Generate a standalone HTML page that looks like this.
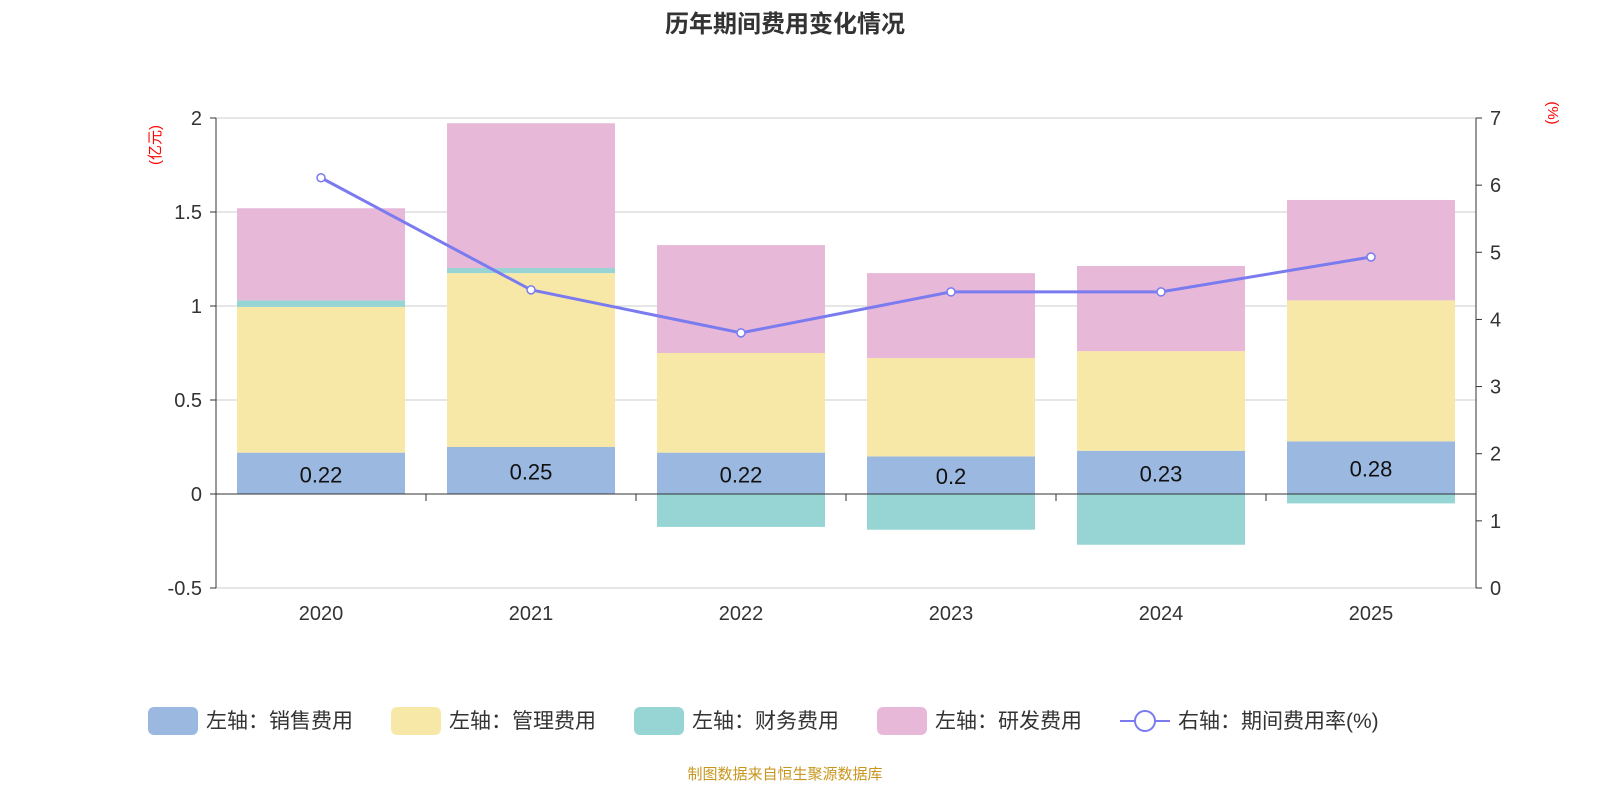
<!DOCTYPE html>
<html><head><meta charset="utf-8"><style>
body{margin:0;background:#fff;}
svg{display:block;font-family:"Liberation Sans","Noto Sans CJK SC",sans-serif;}
</style></head><body>
<svg id="c" width="1600" height="800">
<text x="785" y="32" text-anchor="middle" font-size="24" font-weight="bold" fill="#333">历年期间费用变化情况</text>
<text x="785" y="779" text-anchor="middle" font-size="15" fill="#c8961e">制图数据来自恒生聚源数据库</text>
</svg>
<script>
const categories=['2020','2021','2022','2023','2024','2025'];
const sales=[0.22,0.25,0.22,0.2,0.23,0.28];
const mgmt=[0.775,0.925,0.53,0.523,0.53,0.75];
const fin=[0.035,0.027,-0.175,-0.19,-0.27,-0.05];
const rd=[0.49,0.77,0.574,0.452,0.453,0.534];
const rate=[6.11,4.44,3.80,4.41,4.41,4.93];
const leftTicks=[-0.5,0,0.5,1,1.5,2];
const rightTicks=[0,1,2,3,4,5,6,7];

const svg=document.getElementById('c');
const NS='http://www.w3.org/2000/svg';
const X0=216,X1=1476,T=118,B=588;
const yL=v=>T+(2-v)/(2.5)*(B-T);
const yR=v=>B-v/7*(B-T);
const band=(X1-X0)/categories.length;
const xc=i=>X0+band*(i+0.5);
const bw=band*0.8;
function el(tag,attrs,txt){const e=document.createElementNS(NS,tag);for(const k in attrs)e.setAttribute(k,attrs[k]);if(txt!==undefined)e.textContent=txt;svg.appendChild(e);return e;}

leftTicks.forEach(t=>{
 const g=el('line',{x1:X0,x2:X1,y1:yL(t),y2:yL(t),stroke:'#ccc','stroke-width':1});
 
 
 const tx=el('text',{x:X0-14,y:yL(t)+7,'text-anchor':'end','font-size':20,fill:'#333'},String(t));
 
 
 el('line',{x1:X0-6,x2:X0,y1:yL(t),y2:yL(t),stroke:'#333'});
});
rightTicks.forEach(t=>{
 const tx=el('text',{x:X1+14,y:yR(t)+7,'font-size':20,fill:'#333'},String(t));
 
 
 el('line',{x1:X1,x2:X1+6,y1:yR(t),y2:yR(t),stroke:'#333'});
});
el('line',{x1:X0,x2:X0,y1:T,y2:B,stroke:'#333'});
el('line',{x1:X1,x2:X1,y1:T,y2:B,stroke:'#333'});
const u1=el('text',{x:160,y:145,'font-size':15,fill:'red','text-anchor':'middle',transform:'rotate(-90 160 145)'},'(亿元)');


const u2=el('text',{x:1548,y:113,'font-size':15,fill:'red','text-anchor':'middle',transform:'rotate(90 1548 113)'},'(%)');



const cols=['#9bb8e0','#f8e8a8','#97d4d4','#e7b8d8'];
categories.forEach((c,i)=>{
 let pos=0,neg=0;
 [sales,mgmt,fin,rd].forEach((s,k)=>{
  const v=s[i];let a,b;
  if(v>=0){a=pos;b=pos+v;pos=b;}else{a=neg;b=neg+v;neg=b;}
  const r=el('rect',{x:xc(i)-bw/2,y:Math.min(yL(a),yL(b)),width:bw,height:Math.abs(yL(a)-yL(b)),fill:cols[k]});
  
  
 });
 const l=el('text',{x:xc(i),y:yL(sales[i]/2)+9,'text-anchor':'middle','font-size':22,fill:'#111'},String(sales[i]));
 
 
 const xl=el('text',{x:xc(i),y:620,'text-anchor':'middle','font-size':20,fill:'#333'},c);
 
 
});
el('line',{x1:X0,x2:X1,y1:yL(0),y2:yL(0),stroke:'#333'});
for(let i=0;i<=categories.length;i++)el('line',{x1:X0+band*i,x2:X0+band*i,y1:yL(0),y2:yL(0)+7,stroke:'#333'});

const pl=el('polyline',{points:rate.map((v,i)=>xc(i)+','+yR(v)).join(' '),fill:'none',stroke:'#7b7bf0','stroke-width':3});


rate.forEach((v,i)=>{
 const p=el('circle',{cx:xc(i),cy:yR(v),r:4,fill:'#fff',stroke:'#7b7bf0','stroke-width':1.5});
 
 
});

const leg=[['左轴：销售费用',148,cols[0]],['左轴：管理费用',391,cols[1]],['左轴：财务费用',634,cols[2]],['左轴：研发费用',877,cols[3]]];
leg.forEach(([t,x,c])=>{
 const r=el('rect',{x:x,y:707,width:50,height:28,rx:6,fill:c});
 
 
 const tx=el('text',{x:x+58,y:728,'font-size':21,fill:'#333'},t);
 
 
});
el('line',{x1:1120,x2:1170,y1:721,y2:721,stroke:'#7b7bf0','stroke-width':2});
const lc=el('circle',{cx:1145,cy:721,r:10,fill:'#fff',stroke:'#7b7bf0','stroke-width':2});


const lt=el('text',{x:1178,y:728,'font-size':21,fill:'#333'},'右轴：期间费用率(%)');


</script>
</body></html>
